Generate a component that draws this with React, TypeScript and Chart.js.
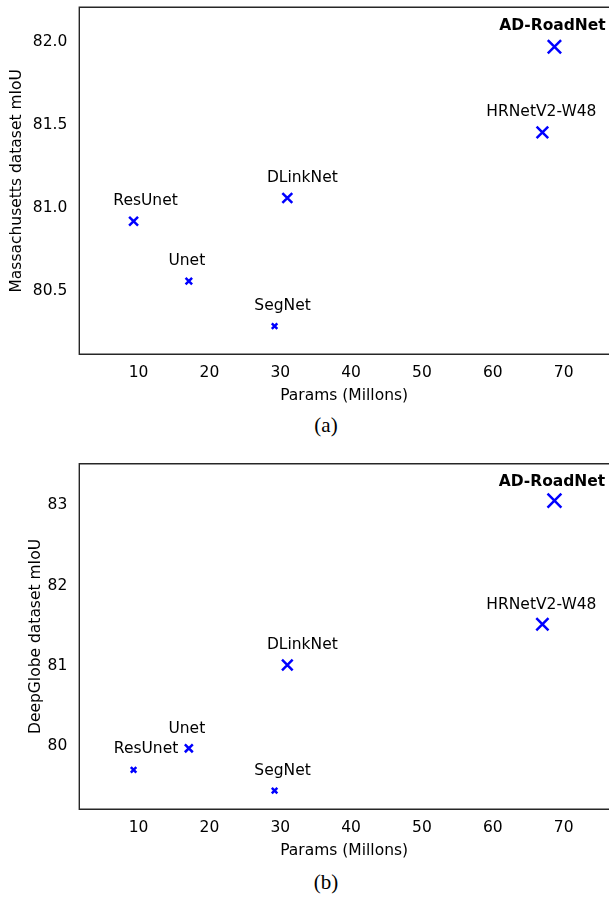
import React, { useEffect, useRef } from 'react';
import { Chart, registerables } from 'chart.js';

Chart.register(...registerables);

// ---------- data ----------
const models = ['ResUnet', 'Unet', 'SegNet', 'DLinkNet', 'HRNetV2-W48', 'AD-RoadNet'];
const paramsMillions = [9.3, 17.1, 29.2, 31.0, 67.0, 68.7];
const massachusettsMIoU = [80.92, 80.56, 80.29, 81.06, 81.455, 81.97];
const deepGlobeMIoU = [79.705, 79.975, 79.447, 81.012, 81.52, 83.06];
const xTickValues = [10, 20, 30, 40, 50, 60, 70];
const massachusettsTicks = [80.5, 81.0, 81.5, 82.0];
const deepGlobeTicks = [80, 81, 82, 83];
const highlightedModel = 'AD-RoadNet';

// ---------- styles ----------
const massRadii = [6.3, 4.6, 3.9, 7.0, 8.2, 9.4];
const deepRadii = [3.9, 5.6, 3.9, 7.5, 8.6, 9.8];
const massLabelOffsets: [number, number][] = [[12, -22], [-2, -22], [8, -21.5], [15, -21.6], [-1, -21.6], [-2, -22.7]];
const deepLabelOffsets: [number, number][] = [[12.5, -22.7], [-2, -21], [8, -21.7], [15, -22], [-1, -21.3], [-2.5, -20.4]];

const FONT_FAMILY = "'DejaVu Sans', sans-serif";
const FONT_SIZE = 15.5;
const W = 609;

type PanelProps = {
  top: number;
  height: number;
  padTop: number;
  yValues: number[];
  yTicks: number[];
  yMin: number;
  yMax: number;
  yDecimals: number;
  yTitle: string;
  yTitlePad: number;
  radii: number[];
  offsets: [number, number][];
};

function Panel(p: PanelProps) {
  const ref = useRef<HTMLCanvasElement>(null);
  useEffect(() => {
    const canvas = ref.current!;
    const font = { family: FONT_FAMILY, size: FONT_SIZE };
    const annot = {
      id: 'annot',
      afterDatasetsDraw(chart: any) {
        const { ctx, chartArea, scales } = chart;
        ctx.save();
        ctx.strokeStyle = '#262626';
        ctx.lineWidth = 1.4;
        ctx.beginPath();
        ctx.moveTo(chartArea.right + 5, chartArea.top);
        ctx.lineTo(chartArea.left, chartArea.top);
        ctx.lineTo(chartArea.left, chartArea.bottom);
        ctx.lineTo(chartArea.right + 5, chartArea.bottom);
        ctx.stroke();
        ctx.textAlign = 'center';
        ctx.textBaseline = 'alphabetic';
        ctx.fillStyle = '#000';
        models.forEach((m, i) => {
          const px = scales.x.getPixelForValue(paramsMillions[i]);
          const py = scales.y.getPixelForValue(p.yValues[i]);
          ctx.font = (m === highlightedModel ? 'bold ' : '') + FONT_SIZE + 'px ' + FONT_FAMILY;
          ctx.fillText(m, px + p.offsets[i][0], py + p.offsets[i][1] + 5.65);
        });
        ctx.restore();
      },
    };
    const chart = new Chart(canvas, {
      type: 'scatter',
      data: {
        datasets: [
          {
            data: paramsMillions.map((x, i) => ({ x, y: p.yValues[i] })),
            pointStyle: 'crossRot',
            pointRadius: p.radii,
            pointHoverRadius: p.radii,
            pointBorderColor: '#0000ff',
            pointBackgroundColor: '#0000ff',
            pointBorderWidth: 2.5,
            showLine: false,
          },
        ],
      },
      options: {
        responsive: false,
        animation: false,
        devicePixelRatio: 1,
        layout: { autoPadding: false, padding: { top: p.padTop, left: 0, right: 0, bottom: 0 } },
        plugins: { legend: { display: false }, tooltip: { enabled: false } },
        events: [],
        scales: {
          x: {
            type: 'linear',
            min: 1.64,
            max: 76.4,
            grid: { display: false, drawTicks: false },
            border: { display: false },
            afterBuildTicks: (s: any) => {
              s.ticks = xTickValues.map((v) => ({ value: v }));
            },
            ticks: { font, color: '#000', padding: 9.5, maxRotation: 0 },
            title: { display: true, text: 'Params (Millons)', font, color: '#000', padding: { top: 0, bottom: 4.7 } },
            afterFit: (s: any) => {
              s.height = 55.7;
              s.paddingLeft = 0;
              s.paddingRight = 0;
            },
          },
          y: {
            type: 'linear',
            min: p.yMin,
            max: p.yMax,
            grid: { display: false, drawTicks: false },
            border: { display: false },
            afterBuildTicks: (s: any) => {
              s.ticks = p.yTicks.map((v) => ({ value: v }));
            },
            ticks: {
              font,
              color: '#000',
              padding: 12,
              callback: (v: any) => Number(v).toFixed(p.yDecimals),
            },
            title: { display: true, text: p.yTitle, font, color: '#000', padding: { top: p.yTitlePad, bottom: 0 } },
            afterFit: (s: any) => {
              s.width = 79.3;
              s.paddingTop = 0;
              s.paddingBottom = 0;
            },
          },
        },
      },
      plugins: [annot],
    } as any);
    return () => chart.destroy();
  }, []);
  return (
    <canvas
      ref={ref}
      width={W}
      height={p.height}
      style={{ position: 'absolute', left: 0, top: p.top, width: W, height: p.height }}
    />
  );
}

const captionStyle: React.CSSProperties = {
  position: 'absolute',
  width: 100,
  left: 326 - 50,
  textAlign: 'center',
  fontFamily: "'Liberation Serif', 'Times New Roman', serif",
  fontSize: 21,
  lineHeight: 1,
  color: '#000',
};

export default function App() {
  return (
    <div style={{ position: 'fixed', left: 0, top: 0, width: W, height: 897, background: '#fff', overflow: 'hidden' }}>
      <Panel
        top={0}
        height={410}
        padTop={7.3}
        yValues={massachusettsMIoU}
        yTicks={massachusettsTicks}
        yMin={80.12}
        yMax={82.207}
        yDecimals={1}
        yTitle="Massachusetts dataset mIoU"
        yTitlePad={7.7}
        radii={massRadii}
        offsets={massLabelOffsets}
      />
      <div style={{ ...captionStyle, top: 414.8 }}>(a)</div>
      <Panel
        top={450}
        height={415}
        padTop={13.7}
        yValues={deepGlobeMIoU}
        yTicks={deepGlobeTicks}
        yMin={79.215}
        yMax={83.52}
        yDecimals={0}
        yTitle="DeepGlobe dataset mIoU"
        yTitlePad={26.2}
        radii={deepRadii}
        offsets={deepLabelOffsets}
      />
      <div style={{ ...captionStyle, top: 871.8 }}>(b)</div>
    </div>
  );
}
